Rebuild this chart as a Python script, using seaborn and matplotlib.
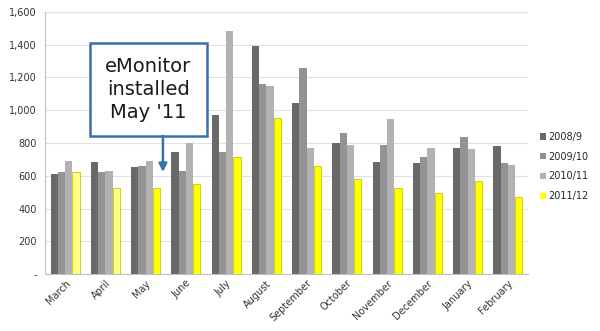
import matplotlib
matplotlib.use("Agg")
import matplotlib.pyplot as plt
import seaborn as sns
import pandas as pd
from matplotlib.patches import Rectangle
from matplotlib.ticker import FuncFormatter

months = ["March", "April", "May", "June", "July", "August", "September",
          "October", "November", "December", "January", "February"]
s2008 = [609, 686, 651, 747, 971, 1394, 1042, 802, 686, 676, 767, 782]
s2009 = [625, 625, 660, 631, 747, 1160, 1260, 859, 788, 716, 839, 680]
s2010 = [690, 631, 690, 798, 1484, 1148, 767, 788, 949, 767, 761, 668]
s2011 = [621, 523, 523, 548, 713, 955, 660, 578, 523, 493, 566, 468]
series = ["2008/9", "2009/10", "2010/11", "2011/12"]
colors = ["#696969", "#939393", "#b2b2b2", "#ffff00"]

rows = []
for name, vals in zip(series, [s2008, s2009, s2010, s2011]):
    for m, v in zip(months, vals):
        rows.append({"month": m, "season": name, "kwh": v})
df = pd.DataFrame(rows)

sns.set_theme(style="white")
plt.rcParams['font.family'] = ['DejaVu Sans']
fig = plt.figure(figsize=(6, 3.31), dpi=100)
ax = fig.add_axes([0.075, 0.172, 0.805, 0.792])

sns.barplot(data=df, x="month", y="kwh", hue="season", order=months,
            hue_order=series, palette=colors, width=0.72, ax=ax,
            errorbar=None, saturation=1, linewidth=0)

# yellow series edge, pale for estimated months
yc = ax.containers[3]
for i, p in enumerate(yc.patches):
    p.set_edgecolor("#c8c800")
    p.set_linewidth(0.6)
    if i < 2:
        p.set_facecolor("#ffff88")

ax.set_ylim(0, 1600)
ax.set_xlim(-0.5, 11.5)
ax.set_yticks(range(0, 1601, 200))
ax.yaxis.set_major_formatter(FuncFormatter(lambda v, p: "-" if v == 0 else f"{int(v):,}"))
ax.grid(axis="y", color="#e0e0e0", linewidth=0.8)
ax.set_axisbelow(True)
for s in ["top", "right"]:
    ax.spines[s].set_visible(False)
for s in ["left", "bottom"]:
    ax.spines[s].set_color("#c0c0c0")
    ax.spines[s].set_linewidth(0.8)
ax.set_xlabel("")
ax.set_ylabel("")
ax.tick_params(axis="y", labelsize=7, colors="#333333", length=0, pad=6)
ax.set_xticks(range(12))
ax.set_xticklabels(months, rotation=45, ha="right", rotation_mode="anchor", fontsize=7, color="#333333")
ax.tick_params(axis="x", length=0, pad=3)
# tick marks between categories
ax.set_xticks([i - 0.5 for i in range(13)], minor=True)
ax.tick_params(axis="x", which="minor", length=4, color="#c0c0c0", width=0.8)

leg = ax.legend(loc="center left", bbox_to_anchor=(1.025, 0.41), frameon=False,
                fontsize=7, handlelength=0.6, handleheight=0.6, handletextpad=0.25,
                labelspacing=1.0, borderaxespad=0.0, borderpad=0.0)

# annotation box and arrow
box = Rectangle((0.618, 843), 2.9, 568, transform=ax.transData, fill=True,
                facecolor="white", edgecolor="#3a6fb0", linewidth=1.8, zorder=5, clip_on=False)
ax.add_patch(box)
ax.text(2.07, 1127, "eMonitor\ninstalled\nMay '11", ha="center", va="center",
        fontsize=14, linespacing=1.25, color="#1a1a1a", zorder=6)
ax.annotate("", xy=(2.43, 623), xytext=(2.43, 843),
            arrowprops=dict(arrowstyle="-|>", color="#3a6fb0", lw=1.8,
                            mutation_scale=12, shrinkA=0, shrinkB=0), zorder=6)

fig.savefig("out.png", dpi=100)
